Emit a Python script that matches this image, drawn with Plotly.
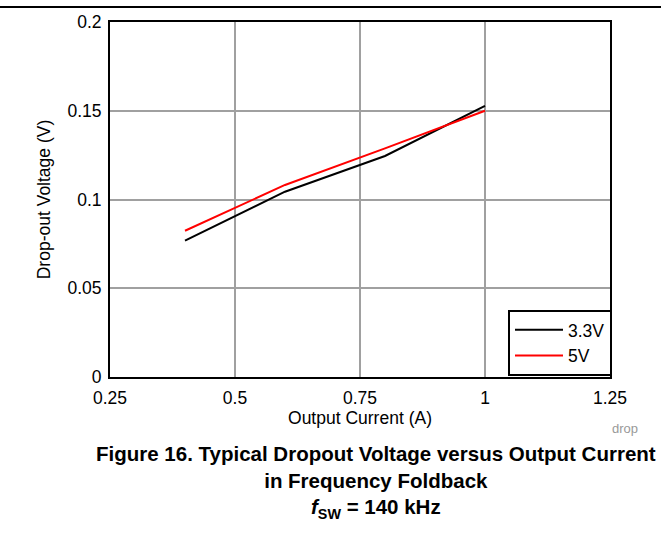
import plotly.graph_objects as go

current = [0.4, 0.6, 0.8, 1.0]
v33 = [0.0768, 0.1044, 0.1245, 0.1528]
v5 = [0.0824, 0.1082, 0.1288, 0.150]
x_ticks = [0.25, 0.5, 0.75, 1, 1.25]
x_labels = ["0.25", "0.5", "0.75", "1", "1.25"]
y_ticks = [0, 0.05, 0.1, 0.15, 0.2]
y_labels = ["0", "0.05", "0.1", "0.15", "0.2"]

FONT = "Liberation Sans, Arial, sans-serif"
FS = 17.5

fig = go.Figure()
fig.add_trace(go.Scatter(x=current, y=v33, mode="lines", name="3.3V",
                         line=dict(color="black", width=2)))
fig.add_trace(go.Scatter(x=current, y=v5, mode="lines", name="5V",
                         line=dict(color="#ff0000", width=2)))

fig.update_layout(
    width=661, height=535,
    margin=dict(l=110, r=51, t=22, b=158),
    paper_bgcolor="white", plot_bgcolor="white",
    font=dict(family=FONT, size=FS, color="black"),
    showlegend=True,
    legend=dict(x=1.004, y=0.003, xanchor="right", yanchor="bottom",
                bordercolor="black", borderwidth=2, bgcolor="white",
                font=dict(size=FS), tracegroupgap=0, itemwidth=48),
    xaxis=dict(range=[0.25, 1.25], tickvals=x_ticks, ticktext=x_labels,
               showgrid=True, gridcolor="#a0a0a0", gridwidth=2,
               showline=True, linecolor="black", linewidth=2, mirror=True,
               ticks="", zeroline=False, ticklabelstandoff=4,
               tickfont=dict(size=FS),
               title=dict(text="Output Current (A)", standoff=2, font=dict(size=FS))),
    yaxis=dict(range=[0, 0.2], tickvals=y_ticks, ticktext=y_labels,
               showgrid=True, gridcolor="#a0a0a0", gridwidth=2,
               showline=True, linecolor="black", linewidth=2, mirror=True,
               ticks="", zeroline=False, ticklabelstandoff=3,
               tickfont=dict(size=FS),
               title=dict(text="Drop-out Voltage (V)", standoff=12, font=dict(size=FS))),
)

fig.add_shape(type="line", xref="paper", yref="paper", x0=-0.22, x1=1.102,
              y0=1 + 15 / 355, y1=1 + 15 / 355, line=dict(color="black", width=2))

fig.add_annotation(text="drop", xref="paper", yref="paper",
                   x=1 + 15 / 500, y=-51 / 355, xanchor="center", yanchor="middle",
                   showarrow=False, font=dict(size=13, color="#999999"))

fig.add_annotation(
    text="<b>Figure 16. Typical Dropout Voltage versus Output Current</b><br>"
         "<b>in Frequency Foldback</b><br>"
         "<b><i>f</i><sub>SW</sub> = 140 kHz</b>",
    xref="paper", yref="paper", x=(376 - 110) / 500, y=-(482 - 377) / 355,
    xanchor="center", yanchor="middle", showarrow=False, align="center",
    font=dict(size=20.5, color="black", family=FONT))

fig.write_html("out.html", config={"displayModeBar": False},
               post_script="document.body.style.margin='0';")
